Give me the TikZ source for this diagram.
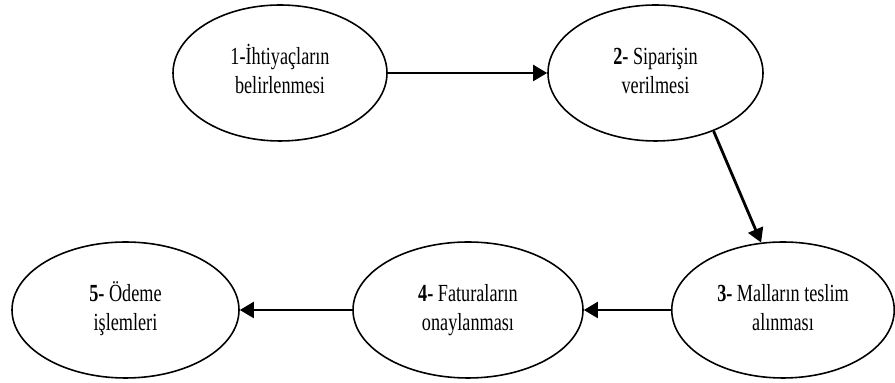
\documentclass[tikz,border=0pt]{standalone}
\usepackage{fontspec}
\setmainfont{Liberation Serif}
\usepackage{tikz,graphics}
\usetikzlibrary{shapes.geometric,arrows.meta}

\newcommand{\adim}[1]{\raisebox{4.5pt}{\scalebox{0.74}[1]{\fontsize{14}{17}\selectfont\begin{tabular}{@{}c@{}}#1\end{tabular}}}}

\tikzset{
  asama/.style={ellipse, draw, line width=0.9pt, minimum height=2.72cm, inner sep=0pt},
  pil/.style={-{Triangle[length=8pt,width=9pt]}, line width=1.6pt}
}

\begin{document}
\begin{tikzpicture}[auto]

    \useasboundingbox (0, 0) rectangle (17.9, 7.66);

    \node[asama, minimum width=4.28cm] (a) at (5.6, 6.2) {\adim{1-İhtiyaçların\\belirlenmesi}};
    \node[asama, minimum width=4.3cm] (b) at (13.11, 6.2) {\adim{\textbf{2-} Siparişin\\verilmesi}};
    \node[asama, minimum width=4.45cm] (c) at (15.66, 1.46) {\adim{\textbf{3-} Malların teslim\\alınması}};
    \node[asama, minimum width=4.6cm] (d) at (9.36, 1.46) {\adim{\textbf{4-} Faturaların\\onaylanması}};
    \node[asama, minimum width=4.54cm] (e) at (2.51, 1.46) {\adim{\textbf{5-} Ödeme\\işlemleri}};

    \draw [pil] (a) to (b);
    \draw [pil] (b.-45) to (c.108);
    \draw [pil] (c) to (d);
    \draw [pil] (d) to (e);

  \end{tikzpicture}
\end{document}
